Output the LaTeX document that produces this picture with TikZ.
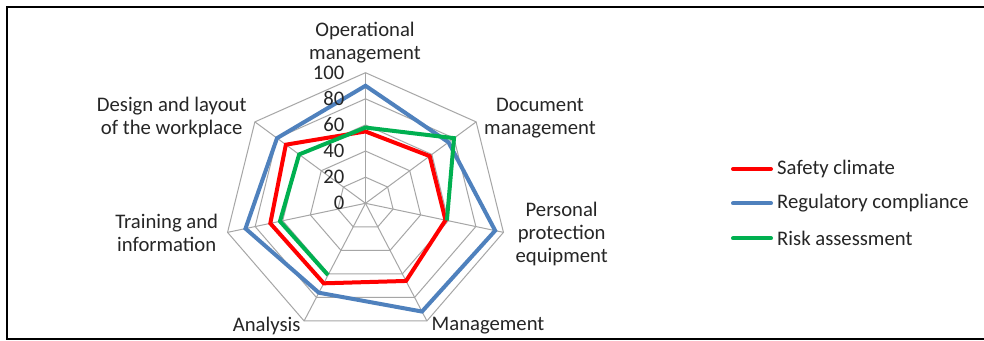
\documentclass[tikz,border=0pt]{standalone}
\usepackage{fontspec}
\setmainfont{Carlito}
\definecolor{scred}{HTML}{FF0000}
\definecolor{scblue}{HTML}{4F81BD}
\definecolor{scgreen}{HTML}{00B050}
\definecolor{gridgray}{HTML}{A6A6A6}
\definecolor{txt}{HTML}{262626}
\begin{document}
\begin{tikzpicture}[x=1pt,y=-1pt,
  lbl/.style={font=\fontsize{20.7}{23}\selectfont, text=txt, align=center, inner sep=0pt},
  ticklbl/.style={font=\fontsize{20.7}{23}\selectfont, text=txt, anchor=east, inner sep=0pt},
  legtext/.style={font=\fontsize{20.7}{23}\selectfont, text=txt, anchor=west, inner sep=0pt},
  gridline/.style={draw=gridgray, line width=1pt},
  series/.style={line width=4pt, line join=miter},
  legline/.style={line width=4pt, line cap=round}]
\useasboundingbox (0,0) rectangle (984,340);
\fill[white] (0,0) rectangle (984,340);
% frame
\draw[line width=2pt] (984,7) -- (7,7) -- (7,339) -- (984,339);
% radar
\begin{scope}[shift={(365.5,203.3)}, x=1.415pt, y=1.306pt]
  \coordinate (c) at (0,0);
  \foreach \k in {0,...,6} \coordinate (s\k) at ({90-\k*360/7}:100);
  \foreach \r in {20,40,60,80,100}
    \draw[gridline] (90:\r) \foreach \k in {1,...,6} { -- ({90-\k*360/7}:\r) } -- cycle;
  \foreach \k in {0,...,6} \draw[gridline] (c) -- (s\k);
  % data
  \foreach \v [count=\k from 0] in {55,58,58,66,68,69,72}
    \coordinate (r\k) at ({90-\k*360/7}:\v);
  \foreach \v [count=\k from 0] in {90,75,94,92,76,87,80}
    \coordinate (b\k) at ({90-\k*360/7}:\v);
  \foreach \v [count=\k from 0] in {58,80,59,0,61,62,60}
    \coordinate (g\k) at ({90-\k*360/7}:\v);
  \draw[series, scred] (r0) -- (r1) -- (r2) -- (r3) -- (r4) -- (r5) -- (r6) -- cycle;
  \draw[series, scblue] (b0) -- (b1) -- (b2) -- (b3) -- (b4) -- (b5) -- (b6) -- cycle;
  \draw[series, scgreen] (g4) -- (g5) -- (g6) -- (g0) -- (g1) -- (g2);
  % tick labels
  \foreach \v in {0,20,40,60,80,100}
    \node[ticklbl, xshift=-21pt] (tick\v) at (90:\v) {\v};
\end{scope}
% axis labels
\node[lbl] (op) at (365,42.5) {Operational\\management};
\node[lbl] (doc) at (540,118) {Document\\management};
\node[lbl] (ppe) at (561.7,233.5) {Personal\\protection\\equipment};
\node[lbl] (mgmt) at (488,325.7) {Management};
\node[lbl] (ana) at (266.7,325.7) {Analysis};
\node[lbl] (tra) at (166.7,233.3) {Training and\\information};
\node[lbl] (des) at (171.7,117.7) {Design and layout\\of the workplace};
% legend
\coordinate (la1) at (733,169); \coordinate (lb1) at (771,169);
\coordinate (la2) at (733,203.3); \coordinate (lb2) at (771,203.3);
\coordinate (la3) at (733,238.3); \coordinate (lb3) at (771,238.3);
\draw[legline, scred] (la1) -- (lb1);
\draw[legline, scblue] (la2) -- (lb2);
\draw[legline, scgreen] (la3) -- (lb3);
\node[legtext] (leg1) at (777,169) {Safety climate};
\node[legtext] (leg2) at (777,203.3) {Regulatory compliance};
\node[legtext] (leg3) at (777,238.3) {Risk assessment};
\end{tikzpicture}
\end{document}
